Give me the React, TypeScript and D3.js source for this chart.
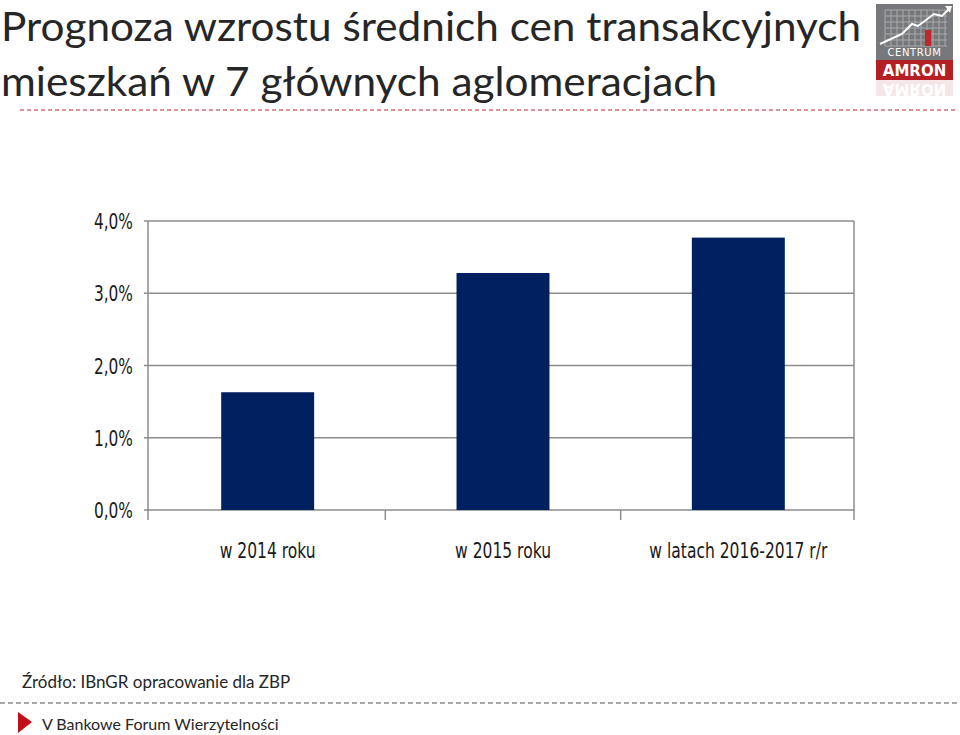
import React from "react";
import * as d3 from "d3";

const categories = ["w 2014 roku", "w 2015 roku", "w latach 2016-2017 r/r"];
const values = [1.63, 3.28, 3.77];
const tickValues = [0, 1, 2, 3, 4];
const titleLines = ["Prognoza wzrostu średnich cen transakcyjnych", "mieszkań w 7 głównych aglomeracjach"];
const titleWidths = [860, 716];
const sourceText = "Źródło: IBnGR opracowanie dla ZBP";
const footerText = "V Bankowe Forum Wierzytelności";

const W = 960;
const H = 735;
const narrow = "'DejaVu Sans', sans-serif";
const sans = "Lato, 'Open Sans', sans-serif";

const Logo = () => {
  // small grid inside the gray box
  const gx = d3.range(885, 948, 6);
  const gy = d3.range(10, 48, 6);
  return (
    <g>
      <rect x={876} y={4} width={77} height={56} fill="#77787b" />
      {gx.map((x) => (
        <line key={"gx" + x} x1={x} x2={x} y1={10} y2={46} stroke="#a9aaad" strokeWidth={1} />
      ))}
      {gy.map((y) => (
        <line key={"gy" + y} x1={885} x2={947} y1={y} y2={y} stroke="#a9aaad" strokeWidth={1} />
      ))}
      <rect x={925} y={30} width={6} height={16} fill="#c0272d" />
      <polyline points="880,44 902,34 912,24 918,26 934,14 942,16 950,8" fill="none" stroke="#fff" strokeWidth={2} />
      <polygon points="945,6 952,6 950,13" fill="#fff" />
      <text x={914.5} y={56} textAnchor="middle" fill="#fff" fontFamily="'DejaVu Sans', sans-serif" fontSize={10} letterSpacing={0.6}>CENTRUM</text>
      <rect x={876} y={60} width={77} height={20} fill="#b52025" />
      <text x={914.5} y={76} textAnchor="middle" fill="#fff" fontFamily="'DejaVu Sans', sans-serif" fontWeight="bold" fontSize={15}>AMRON</text>
      <g transform="translate(0,162) scale(1,-1)" opacity={0.25}>
        <rect x={876} y={66} width={77} height={16} fill="#d9a0a2" />
        <text x={914.5} y={78} textAnchor="middle" fill="#fff" fontFamily="'DejaVu Sans', sans-serif" fontWeight="bold" fontSize={15}>AMRON</text>
      </g>
    </g>
  );
};

export default function App() {
  const left = 148;
  const right = 854;
  const top = 221;
  const bottom = 510;

  const x = d3.scaleBand<string>().domain(categories).range([left + 2, right + 2]).paddingInner(0.605).paddingOuter(0.3025);
  const y = d3.scaleLinear().domain([0, 4]).range([bottom, top]);
  const step = x.step();
  const fmt = (v: number) => d3.format(".1f")(v).replace(".", ",") + "%";

  return (
    <svg width={W} height={H} style={{ position: "absolute", left: 0, top: 0 }}>
      <rect width={W} height={H} fill="#fff" />

      {titleLines.map((t, i) => (
        <text key={t} x={1} y={41 + i * 55} fill="#262626" fontFamily={sans} fontSize={41} textLength={titleWidths[i]} lengthAdjust="spacingAndGlyphs">
          {t}
        </text>
      ))}
      <line x1={20} x2={956} y1={110} y2={110} stroke="#c0272d" strokeWidth={1} strokeDasharray="4,3" />
      <Logo />

      {/* grid + ticks */}
      {tickValues.map((t) => (
        <g key={t}>
          <line x1={left - 4} x2={right} y1={y(t)} y2={y(t)} stroke="#8c8c8c" strokeWidth={1.5} />
          <g transform={`translate(133,${y(t) + 8}) scale(0.7,1)`}>
            <text textAnchor="end" fill="#1a1a1a" fontFamily={narrow} fontSize={22}>
              {fmt(t)}
            </text>
          </g>
        </g>
      ))}
      <line x1={left} x2={left} y1={top} y2={bottom + 10} stroke="#8c8c8c" strokeWidth={1.5} />
      <line x1={right} x2={right} y1={top} y2={bottom + 10} stroke="#8c8c8c" strokeWidth={1.5} />
      {categories.slice(1).map((c) => (
        <line key={"t" + c} x1={x(c)! - (step - x.bandwidth()) / 2} x2={x(c)! - (step - x.bandwidth()) / 2} y1={bottom} y2={bottom + 10} stroke="#8c8c8c" strokeWidth={1.5} />
      ))}

      {categories.map((c, i) => (
        <rect key={c} x={x(c)} y={y(values[i])} width={x.bandwidth()} height={bottom - y(values[i])} fill="#002060" />
      ))}

      {categories.map((c) => (
        <g key={"l" + c} transform={`translate(${x(c)! + x.bandwidth() / 2},558) scale(0.74,1)`}>
          <text textAnchor="middle" fill="#1a1a1a" fontFamily={narrow} fontSize={21}>
            {c}
          </text>
        </g>
      ))}

      <text x={22} y={688} fill="#262626" fontFamily={sans} fontSize={17}>{sourceText}</text>
      <line x1={0} x2={960} y1={703} y2={703} stroke="#8c8c8c" strokeWidth={1.5} strokeDasharray="5,3" />
      <polygon points="18,712 32,722 18,733" fill="#c0101a" />
      <text x={42} y={730} fill="#262626" fontFamily={sans} fontSize={16}>{footerText}</text>
    </svg>
  );
}
